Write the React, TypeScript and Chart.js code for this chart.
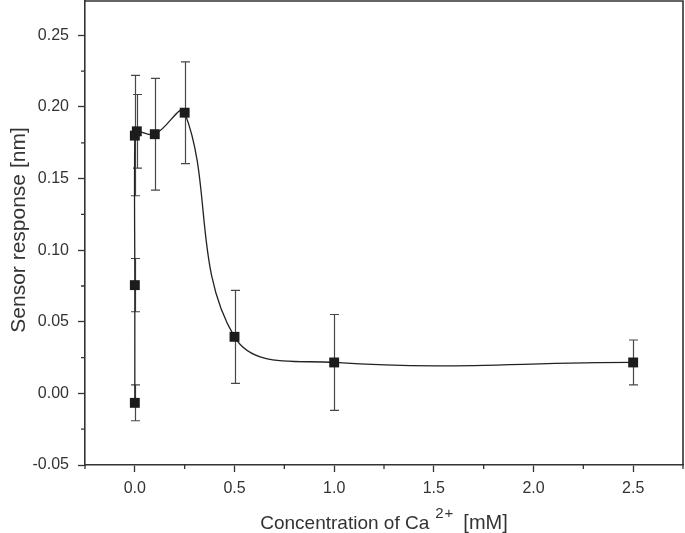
import React, { useEffect, useRef } from 'react';
import { Chart, registerables } from 'chart.js';

Chart.register(...registerables);

// ---- data ----
const concentration = [0, 0, 0, 0.01, 0.1, 0.25, 0.5, 1.0, 2.5];
const response = [-0.0066, 0.0756, 0.18, 0.183, 0.181, 0.196, 0.0395, 0.0216, 0.0216];
const responseError = [0.0125, 0.0186, 0.042, 0.0257, 0.039, 0.0355, 0.0325, 0.0335, 0.0157];

const xTicks = [0, 0.5, 1.0, 1.5, 2.0, 2.5];
const xMinorTicks = [-0.25, 0.25, 0.75, 1.25, 1.75, 2.25, 2.75];
const yTicks = [-0.05, 0, 0.05, 0.1, 0.15, 0.2, 0.25];
const yMinorTicks = [-0.025, 0.025, 0.075, 0.125, 0.175, 0.225];

const xTitleMain = 'Concentration of Ca';
const xTitleSup = '2+';
const xTitleRest = '[mM]';
const yTitle = 'Sensor response [nm]';

const FONT = '"Liberation Sans", Arial, Helvetica, sans-serif';
const INK = '#333333';

const decorPlugin = {
  id: 'decor',
  beforeDatasetsDraw(chart: any) {
    const { ctx, scales } = chart;
    const x = scales.x;
    const y = scales.y;
    ctx.save();
    ctx.strokeStyle = '#474747';
    ctx.lineWidth = 1.2;
    const cap = 4.5;
    concentration.forEach((cx, i) => {
      const px = Math.round(x.getPixelForValue(cx)) + 0.5;
      const top = y.getPixelForValue(response[i] + responseError[i]);
      const bot = y.getPixelForValue(response[i] - responseError[i]);
      ctx.beginPath();
      ctx.moveTo(px, top);
      ctx.lineTo(px, bot);
      ctx.moveTo(px - cap, top);
      ctx.lineTo(px + cap, top);
      ctx.moveTo(px - cap, bot);
      ctx.lineTo(px + cap, bot);
      ctx.stroke();
    });
    ctx.restore();
  },
  afterDraw(chart: any) {
    const { ctx, chartArea, scales } = chart;
    const x = scales.x;
    const y = scales.y;
    ctx.save();
    // top & right frame
    ctx.strokeStyle = INK;
    ctx.lineWidth = 1.6;
    ctx.beginPath();
    ctx.moveTo(chartArea.left, chartArea.top);
    ctx.lineTo(chartArea.right, chartArea.top);
    ctx.lineTo(chartArea.right, chartArea.bottom);
    ctx.stroke();
    // minor ticks
    ctx.lineWidth = 1.3;
    ctx.beginPath();
    xMinorTicks.forEach((v) => {
      const px = x.getPixelForValue(v);
      ctx.moveTo(px, chartArea.bottom);
      ctx.lineTo(px, chartArea.bottom + 4);
    });
    yMinorTicks.forEach((v) => {
      const py = y.getPixelForValue(v);
      ctx.moveTo(chartArea.left, py);
      ctx.lineTo(chartArea.left - 4, py);
    });
    ctx.stroke();

    // x title with superscript
    ctx.fillStyle = INK;
    ctx.textBaseline = 'alphabetic';
    ctx.textAlign = 'left';
    const mainFont = `19px ${FONT}`;
    const supFont = `15px ${FONT}`;
    const restFont = `20px ${FONT}`;
    ctx.font = mainFont;
    const w1 = ctx.measureText(xTitleMain).width;
    ctx.font = supFont;
    const w2 = ctx.measureText(xTitleSup).width + 1;
    ctx.font = restFont;
    const w3 = ctx.measureText(xTitleRest).width;
    const gap1 = 6;
    const gap2 = 10;
    const total = w1 + gap1 + w2 + gap2 + w3;
    const cx = (chartArea.left + chartArea.right) / 2;
    const baseY = 529;
    let sx = cx - total / 2;
    ctx.font = mainFont;
    ctx.fillText(xTitleMain, sx, baseY);
    sx += w1 + gap1;
    ctx.font = supFont;
    (ctx as any).letterSpacing = '1px';
    ctx.fillText(xTitleSup, sx, baseY - 11);
    (ctx as any).letterSpacing = '0px';
    sx += w2 + gap2;
    ctx.font = restFont;
    ctx.fillText(xTitleRest, sx, baseY);

    // y title
    ctx.save();
    ctx.translate(25, 230);
    ctx.rotate(-Math.PI / 2);
    ctx.textAlign = 'center';
    ctx.font = `21px ${FONT}`;
    ctx.fillText(yTitle, 0, 0);
    ctx.restore();

    ctx.restore();
  },
};

export default function App() {
  const canvasRef = useRef<HTMLCanvasElement | null>(null);

  useEffect(() => {
    if (!canvasRef.current) return;
    const points = concentration.map((c, i) => ({ x: c, y: response[i] }));
    const chart = new Chart(canvasRef.current, {
      type: 'line',
      data: {
        datasets: [
          {
            data: points,
            borderColor: '#222222',
            borderWidth: 1.3,
            tension: 0.4,
            fill: false,
            pointStyle: 'rect',
            pointRadius: 7,
            pointBackgroundColor: '#1c1c1c',
            pointBorderColor: '#1c1c1c',
            pointBorderWidth: 0,
          },
        ],
      },
      options: {
        responsive: false,
        animation: false,
        events: [],
        layout: { autoPadding: false, padding: { top: 1, right: 2, left: 0, bottom: 0 } },
        plugins: {
          legend: { display: false },
          tooltip: { enabled: false },
          title: { display: false },
        },
        scales: {
          x: {
            type: 'linear',
            min: -0.25,
            max: 2.75,
            afterBuildTicks: (s: any) => {
              s.ticks = xTicks.map((v) => ({ value: v }));
            },
            afterFit: (s: any) => {
              s.height = 68;
              s.paddingLeft = 0;
              s.paddingRight = 0;
              s.paddingTop = 0;
              s.paddingBottom = 0;
            },
            ticks: {
              callback: (v: any) => Number(v).toFixed(1),
              font: { family: FONT, size: 16 },
              color: INK,
              padding: 7,
              maxRotation: 0,
              autoSkip: false,
            },
            grid: {
              drawOnChartArea: false,
              drawTicks: true,
              tickLength: 7,
              tickWidth: 1.3,
              tickColor: INK,
            },
            border: { display: true, color: INK, width: 1.6 },
          },
          y: {
            type: 'linear',
            min: -0.05,
            max: 0.274,
            afterBuildTicks: (s: any) => {
              s.ticks = yTicks.map((v) => ({ value: v }));
            },
            afterFit: (s: any) => {
              s.width = 85;
              s.paddingLeft = 0;
              s.paddingRight = 0;
              s.paddingTop = 0;
              s.paddingBottom = 0;
            },
            ticks: {
              callback: (v: any) => Number(v).toFixed(2),
              font: { family: FONT, size: 16 },
              color: INK,
              padding: 9,
              autoSkip: false,
            },
            grid: {
              drawOnChartArea: false,
              drawTicks: true,
              tickLength: 7,
              tickWidth: 1.3,
              tickColor: INK,
            },
            border: { display: true, color: INK, width: 1.6 },
          },
        },
      },
      plugins: [decorPlugin],
    });
    return () => chart.destroy();
  }, []);

  return (
    <div style={{ position: 'absolute', left: 0, top: 0, width: 685, height: 533, background: '#ffffff', overflow: 'hidden' }}>
      <canvas ref={canvasRef} width={685} height={533} style={{ display: 'block' }} />
    </div>
  );
}
